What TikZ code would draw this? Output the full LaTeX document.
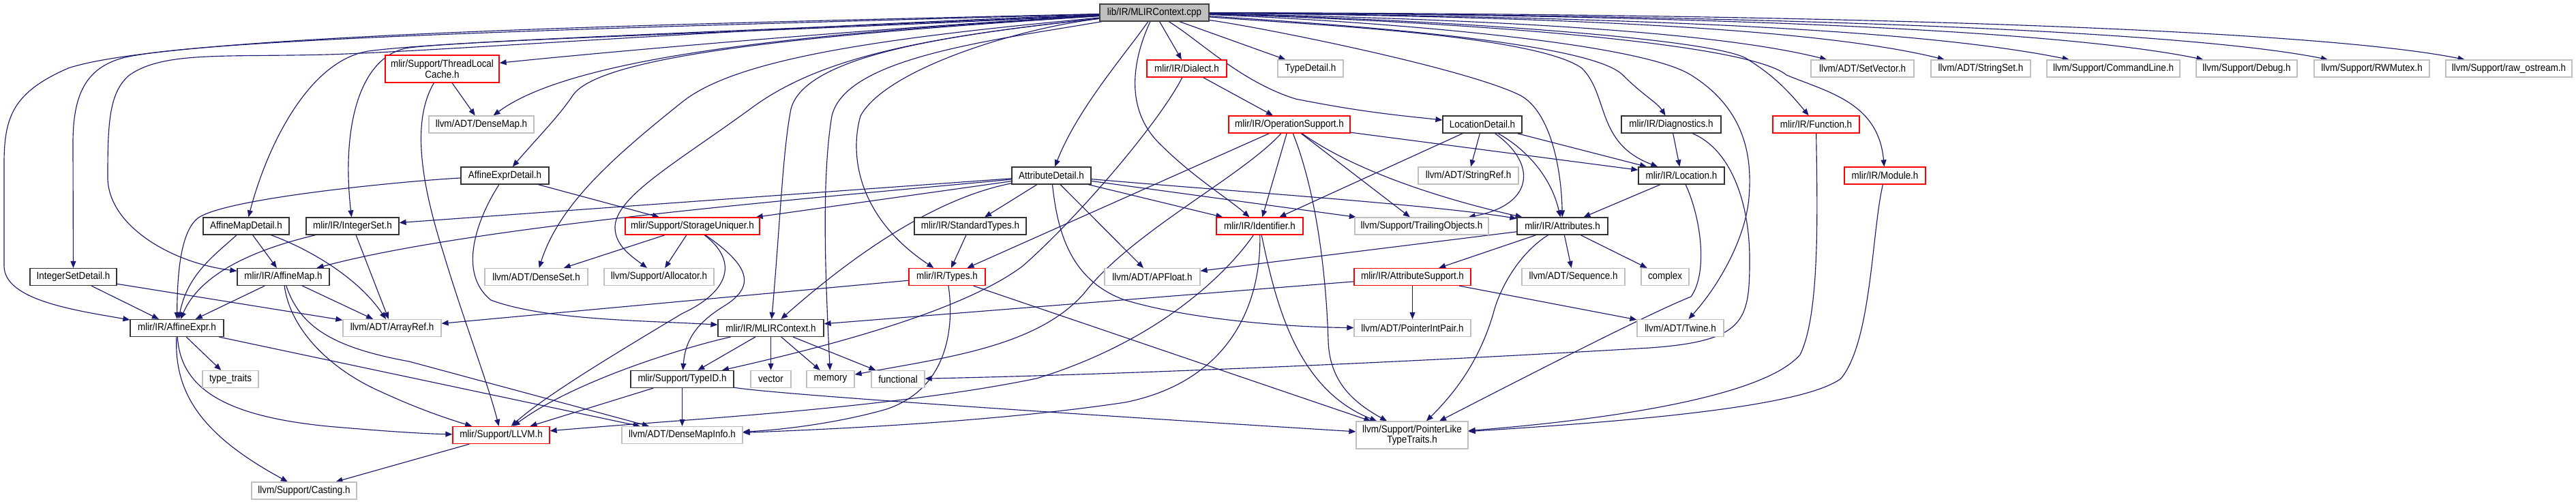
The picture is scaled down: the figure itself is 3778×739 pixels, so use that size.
\documentclass[tikz,border=0pt]{standalone}
\usepackage{fontspec}
\setmainfont{Liberation Sans}[FakeStretch=0.9]
\usetikzlibrary{arrows.meta}
\pgfdeclarelayer{edges}
\pgfsetlayers{edges,main}

\begin{document}
\begin{tikzpicture}[
  x=0.02cm, y=-0.02cm,
  font=\fontsize{8.5pt}{7.8pt}\selectfont,
  filebox/.style={draw,rectangle,fill=white,line width=0.7pt,minimum height=0.5cm,
    inner xsep=2pt,inner ysep=1pt,align=center},
  bw/.style={minimum width=#1*0.02cm},
  twoline/.style={minimum height=0.8cm},
  rootbox/.style={filebox,fill=nodegray,draw=black!75},
  docbox/.style={filebox,draw=black!80},
  cutbox/.style={filebox,draw=cutred},
  extbox/.style={filebox,draw=nodegray},
  dep/.style={draw=depblue,line width=0.65pt,-{Triangle[length=0.2cm,width=0.16cm]}}
]
\definecolor{depblue}{RGB}{25,25,112}
\definecolor{nodegray}{RGB}{191,191,191}
\definecolor{cutred}{RGB}{255,0,0}

\useasboundingbox (0,0) rectangle (3778,739);

% The file whose includes are shown.
\node[rootbox,bw=160] (ctxcpp) at (1693,18.5) {lib/IR/MLIRContext.cpp};

% Headers, top to bottom.
\node[cutbox,bw=167,twoline] (tlcache) at (648.5,101) {mlir/Support/ThreadLocal\\Cache.h};
\node[cutbox,bw=117] (dialect) at (1740.5,100.5) {mlir/IR/Dialect.h};
\node[extbox,bw=96] (typedet) at (1922,100.5) {TypeDetail.h};
\node[extbox,bw=151] (setvec) at (2731.5,100.5) {llvm/ADT/SetVector.h};
\node[extbox,bw=146] (stringset) at (2905,100.5) {llvm/ADT/StringSet.h};
\node[extbox,bw=195] (cmdline) at (3099.5,100.5) {llvm/Support/CommandLine.h};
\node[extbox,bw=148] (debug) at (3295,100.5) {llvm/Support/Debug.h};
\node[extbox,bw=169] (rwmutex) at (3478.5,100.5) {llvm/Support/RWMutex.h};
\node[extbox,bw=185] (rawos) at (3679.5,100.5) {llvm/Support/raw\_ostream.h};

\node[extbox,bw=154] (densemap) at (706,182.5) {llvm/ADT/DenseMap.h};
\node[cutbox,bw=178] (opsupp) at (1891,182.5) {mlir/IR/OperationSupport.h};
\node[docbox,bw=116] (locdet) at (2174,182.5) {LocationDetail.h};
\node[docbox,bw=146] (diag) at (2451,182.5) {mlir/IR/Diagnostics.h};
\node[cutbox,bw=127] (func) at (2663.5,182.5) {mlir/IR/Function.h};

\node[docbox,bw=129] (aexprdet) at (740.5,257.5) {AffineExprDetail.h};
\node[docbox,bw=116] (attrdet) at (1542,257.5) {AttributeDetail.h};
\node[extbox,bw=147] (stringref) at (2153.5,257.5) {llvm/ADT/StringRef.h};
\node[docbox,bw=126] (location) at (2466,257.5) {mlir/IR/Location.h};
\node[cutbox,bw=119] (module) at (2764.5,257.5) {mlir/IR/Module.h};

\node[docbox,bw=126] (amapdet) at (361,331.5) {AffineMapDetail.h};
\node[docbox,bw=136] (intset) at (517,331.5) {mlir/IR/IntegerSet.h};
\node[cutbox,bw=197] (uniquer) at (1015.5,331.5) {mlir/Support/StorageUniquer.h};
\node[docbox,bw=164] (stdtypes) at (1423,331.5) {mlir/IR/StandardTypes.h};
\node[cutbox,bw=127] (ident) at (1847.5,331.5) {mlir/IR/Identifier.h};
\node[extbox,bw=196] (trailobj) at (2085,331.5) {llvm/Support/TrailingObjects.h};
\node[docbox,bw=133] (attrs) at (2291.5,331.5) {mlir/IR/Attributes.h};

\node[docbox,bw=127] (intsetdet) at (107.5,406) {IntegerSetDetail.h};
\node[docbox,bw=135] (amap) at (415.5,406) {mlir/IR/AffineMap.h};
\node[extbox,bw=151] (denseset) at (786.5,406) {llvm/ADT/DenseSet.h};
\node[extbox,bw=161] (allocator) at (966.5,406) {llvm/Support/Allocator.h};
\node[cutbox,bw=112] (types) at (1389,406) {mlir/IR/Types.h};
\node[extbox,bw=140] (apfloat) at (1690,406) {llvm/ADT/APFloat.h};
\node[cutbox,bw=171] (attrsupp) at (2071.5,406) {mlir/IR/AttributeSupport.h};
\node[extbox,bw=151] (sequence) at (2307.5,406) {llvm/ADT/Sequence.h};
\node[extbox,bw=70] (complex) at (2442,406) {complex};

\node[docbox,bw=137] (aexpr) at (259.5,481) {mlir/IR/AffineExpr.h};
\node[extbox,bw=144] (arrayref) at (575,481) {llvm/ADT/ArrayRef.h};
\node[docbox,bw=155] (ctxh) at (1130.5,481) {mlir/IR/MLIRContext.h};
\node[extbox,bw=171] (ptrint) at (2071.5,481) {llvm/ADT/PointerIntPair.h};
\node[extbox,bw=127] (twine) at (2464.5,481) {llvm/ADT/Twine.h};

\node[extbox,bw=82] (typetraits) at (338,556) {type\_traits};
\node[docbox,bw=151] (typeid) at (1000.5,556) {mlir/Support/TypeID.h};
\node[extbox,bw=59] (vector) at (1130.5,556) {vector};
\node[extbox,bw=70] (memory) at (1218,556) {memory};
\node[extbox,bw=78] (functional) at (1317,556) {functional};

\node[cutbox,bw=142] (llvmh) at (735,638) {mlir/Support/LLVM.h};
\node[extbox,bw=177] (dmapinfo) at (1000.5,638) {llvm/ADT/DenseMapInfo.h};
\node[extbox,bw=164,twoline] (plttraits) at (2071,638) {llvm/Support/PointerLike\\TypeTraits.h};
\node[extbox,bw=154] (casting) at (446,719.5) {llvm/Support/Casting.h};

\begin{pgfonlayer}{edges}
% Includes of lib/IR/MLIRContext.cpp, fanning out to the left.
\draw[dep] (ctxcpp) .. controls (1000,35) and (250,50) .. (100,100)
  .. controls (20,135) and (6,170) .. (6,240) -- (6,390)
  .. controls (6,440) and (110,455) .. (aexpr);
\draw[dep] (ctxcpp) .. controls (1000,38) and (300,55) .. (180,85)
  .. controls (125,100) and (107,140) .. (107,210) -- (intsetdet);
\draw[dep] (ctxcpp) .. controls (1100,40) and (650,75) .. (480,80)
  .. controls (330,84) and (240,75) .. (190,110)
  .. controls (160,135) and (158,180) .. (158,260)
  .. controls (158,330) and (250,385) .. (amap);
\draw[dep] (ctxcpp) .. controls (1100,45) and (650,60) .. (540,75)
  .. controls (450,90) and (390,220) .. (amapdet);
\draw[dep] (ctxcpp) .. controls (1100,48) and (700,58) .. (600,70)
  .. controls (530,80) and (500,180) .. (intset);
\draw[dep] (ctxcpp) .. controls (1300,40) and (900,75) .. (tlcache);
\draw[dep] (ctxcpp) .. controls (1250,45) and (850,75) .. (densemap);
\draw[dep] (ctxcpp) .. controls (1200,50) and (880,80) .. (840,140)
  .. controls (820,170) and (790,200) .. (aexprdet);
\draw[dep] (ctxcpp) .. controls (1300,55) and (1080,85) .. (1000,150)
  .. controls (900,230) and (820,300) .. (denseset);
\draw[dep] (ctxcpp) .. controls (1350,55) and (1200,85) .. (1100,160)
  .. controls (990,240) and (900,290) .. (902,335)
  .. controls (903,360) and (925,375) .. (allocator);
\draw[dep] (ctxcpp) .. controls (1400,50) and (1180,80) .. (1160,160)
  .. controls (1148,220) and (1144,330) .. (ctxh);
\draw[dep] (ctxcpp) .. controls (1450,60) and (1240,85) .. (1220,170)
  .. controls (1205,260) and (1210,400) .. (memory);
\draw[dep] (ctxcpp) .. controls (1500,40) and (1300,100) .. (1262,170)
  .. controls (1245,230) and (1260,320) .. (types);

% Includes of lib/IR/MLIRContext.cpp, below and to the right.
\draw[dep] (ctxcpp) .. controls (1650,80) and (1580,160) .. (attrdet);
\draw[dep] (ctxcpp) .. controls (1660,90) and (1650,160) .. (1700,210)
  .. controls (1750,260) and (1800,290) .. (ident);
\draw[dep] (ctxcpp) -- (dialect);
\draw[dep] (ctxcpp) -- (typedet);
\draw[dep] (ctxcpp) .. controls (1760,60) and (1820,120) .. (1900,145)
  .. controls (2000,165) and (2060,170) .. (locdet);
\draw[dep] (ctxcpp) .. controls (1850,40) and (2150,100) .. (2230,140)
  .. controls (2275,165) and (2290,250) .. (attrs);
\draw[dep] (ctxcpp) .. controls (1900,35) and (2250,50) .. (2320,100)
  .. controls (2360,140) and (2340,210) .. (location);
\draw[dep] (ctxcpp) .. controls (1950,35) and (2330,60) .. (2380,110)
  .. controls (2410,140) and (2430,150) .. (diag);
\draw[dep] (ctxcpp) .. controls (2000,30) and (2400,60) .. (2480,110)
  .. controls (2560,160) and (2570,230) .. (2565,290)
  .. controls (2560,350) and (2520,420) .. (twine);
\draw[dep] (ctxcpp) .. controls (2100,28) and (2500,55) .. (2560,85)
  .. controls (2600,110) and (2620,130) .. (func);
\draw[dep] (ctxcpp) .. controls (2100,30) and (2560,60) .. (2620,110)
  .. controls (2680,135) and (2755,150) .. (module);
\draw[dep] (ctxcpp) .. controls (2300,30) and (2550,55) .. (setvec);
\draw[dep] (ctxcpp) .. controls (2400,25) and (2700,50) .. (stringset);
\draw[dep] (ctxcpp) .. controls (2500,25) and (2850,50) .. (cmdline);
\draw[dep] (ctxcpp) .. controls (2600,22) and (3050,50) .. (debug);
\draw[dep] (ctxcpp) .. controls (2700,22) and (3230,50) .. (rwmutex);
\draw[dep] (ctxcpp) .. controls (2800,20) and (3420,48) .. (rawos);

% Affine headers.
\draw[dep] (tlcache) -- (densemap);
\draw[dep] (tlcache) .. controls (605,175) and (615,260) .. (650,370)
  .. controls (680,470) and (715,560) .. (llvmh);
\draw[dep] (aexprdet) .. controls (600,265) and (330,290) .. (290,320)
  .. controls (265,340) and (260,400) .. (aexpr);
\draw[dep] (aexprdet) .. controls (700,320) and (670,400) .. (720,440)
  .. controls (800,470) and (950,470) .. (ctxh);
\draw[dep] (aexprdet) -- (uniquer);
\draw[dep] (amapdet) .. controls (320,370) and (275,400) .. (aexpr);
\draw[dep] (amapdet) -- (amap);
\draw[dep] (amapdet) .. controls (440,360) and (520,400) .. (arrayref);
\draw[dep] (intset) .. controls (420,355) and (300,385) .. (aexpr);
\draw[dep] (intset) -- (arrayref);
\draw[dep] (intsetdet) -- (aexpr);
\draw[dep] (intsetdet) -- (arrayref);
\draw[dep] (amap) -- (aexpr);
\draw[dep] (amap) -- (arrayref);
\draw[dep] (amap) .. controls (425,480) and (480,540) .. (560,575)
  .. controls (610,598) and (650,612) .. (llvmh);
\draw[dep] (amap) .. controls (440,480) and (490,510) .. (600,530) -- (dmapinfo);
\draw[dep] (aexpr) -- (typetraits);
\draw[dep] (aexpr) .. controls (255,580) and (300,640) .. (casting);
\draw[dep] (aexpr) .. controls (265,570) and (330,610) .. (480,625)
  .. controls (560,632) and (620,636) .. (llvmh);
\draw[dep] (aexpr) -- (dmapinfo);
\draw[dep] (llvmh) -- (casting);

% Context and support headers.
\draw[dep] (uniquer) -- (denseset);
\draw[dep] (uniquer) -- (allocator);
\draw[dep] (uniquer) .. controls (1080,380) and (1075,425) .. (1000,460)
  .. controls (900,520) and (800,580) .. (llvmh);
\draw[dep] (uniquer) .. controls (1100,390) and (1110,420) .. (1060,450)
  .. controls (1020,475) and (1005,500) .. (typeid);
\draw[dep] (ctxh) .. controls (1000,510) and (840,560) .. (llvmh);
\draw[dep] (ctxh) -- (typeid);
\draw[dep] (ctxh) -- (vector);
\draw[dep] (ctxh) -- (memory);
\draw[dep] (ctxh) -- (functional);
\draw[dep] (typeid) -- (llvmh);
\draw[dep] (typeid) -- (dmapinfo);
\draw[dep] (typeid) .. controls (1150,580) and (1700,615) .. (plttraits);

% Dialect and operation headers.
\draw[dep] (dialect) -- (opsupp);
\draw[dep] (dialect) .. controls (1700,180) and (1580,320) .. (1500,390)
  .. controls (1420,450) and (1250,500) .. (typeid);
\draw[dep] (opsupp) -- (location);
\draw[dep] (opsupp) -- (ident);
\draw[dep] (opsupp) -- (trailobj);
\draw[dep] (opsupp) .. controls (2000,260) and (2150,300) .. (attrs);
\draw[dep] (opsupp) -- (types);
\draw[dep] (opsupp) .. controls (1820,260) and (1660,340) .. (1590,430)
  .. controls (1520,510) and (1380,525) .. (memory);
\draw[dep] (opsupp) .. controls (1930,280) and (1945,400) .. (1948,500)
  .. controls (1950,560) and (1985,590) .. (plttraits);

% Attribute storage.
\draw[dep] (attrdet) -- (intset);
\draw[dep] (attrdet) .. controls (1200,290) and (700,330) .. (amap);
\draw[dep] (attrdet) -- (uniquer);
\draw[dep] (attrdet) .. controls (1400,285) and (1290,340) .. (ctxh);
\draw[dep] (attrdet) -- (stdtypes);
\draw[dep] (attrdet) -- (apfloat);
\draw[dep] (attrdet) .. controls (1550,330) and (1565,410) .. (1650,440)
  .. controls (1750,470) and (1900,480) .. (ptrint);
\draw[dep] (attrdet) -- (ident);
\draw[dep] (attrdet) -- (trailobj);
\draw[dep] (attrdet) .. controls (1800,280) and (2100,300) .. (attrs);
\draw[dep] (stdtypes) -- (types);

% Types and identifiers.
\draw[dep] (types) -- (arrayref);
\draw[dep] (types) .. controls (1400,480) and (1390,570) .. (1300,600)
  .. controls (1230,620) and (1150,630) .. (dmapinfo);
\draw[dep] (types) -- (plttraits);
\draw[dep] (ident) .. controls (1800,400) and (1700,500) .. (1520,555)
  .. controls (1300,600) and (1000,615) .. (llvmh);
\draw[dep] (ident) .. controls (1850,450) and (1800,560) .. (1650,590)
  .. controls (1450,620) and (1200,630) .. (dmapinfo);
\draw[dep] (ident) .. controls (1870,440) and (1900,570) .. (plttraits);

% Locations and diagnostics.
\draw[dep] (locdet) -- (ident);
\draw[dep] (locdet) -- (stringref);
\draw[dep] (locdet) .. controls (2255,240) and (2250,300) .. (trailobj);
\draw[dep] (locdet) .. controls (2240,220) and (2275,260) .. (attrs);
\draw[dep] (locdet) -- (location);
\draw[dep] (location) -- (attrs);
\draw[dep] (location) .. controls (2495,320) and (2505,400) .. (2480,435)
  .. controls (2430,455) and (2300,520) .. (plttraits);
\draw[dep] (diag) -- (location);
\draw[dep] (diag) .. controls (2540,220) and (2566,300) .. (2566,380)
  .. controls (2566,470) and (2560,500) .. (2420,510)
  .. controls (2000,535) and (1600,550) .. (functional);

% Attributes.
\draw[dep] (attrs) -- (attrsupp);
\draw[dep] (attrs) -- (apfloat);
\draw[dep] (attrs) -- (sequence);
\draw[dep] (attrs) -- (complex);
\draw[dep] (attrs) .. controls (2230,370) and (2200,420) .. (2190,460)
  .. controls (2175,510) and (2150,560) .. (plttraits);
\draw[dep] (attrsupp) -- (ctxh);
\draw[dep] (attrsupp) -- (ptrint);
\draw[dep] (attrsupp) -- (twine);

% Function and module.
\draw[dep] (func) .. controls (2665,300) and (2670,460) .. (2640,520)
  .. controls (2580,590) and (2300,620) .. (plttraits);
\draw[dep] (module) .. controls (2745,340) and (2745,500) .. (2700,555)
  .. controls (2640,600) and (2350,620) .. (plttraits);
\end{pgfonlayer}
\end{tikzpicture}
\end{document}
